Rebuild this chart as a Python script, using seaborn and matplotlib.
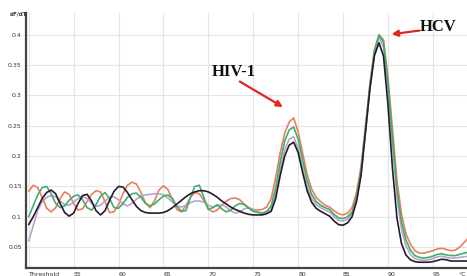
import numpy as np
import pandas as pd
import matplotlib
matplotlib.use("Agg")
import matplotlib.pyplot as plt
import seaborn as sns

# Temperature grid (°C) shared by every curve
temps = [50.0 + 0.5 * i for i in range(99)]

orange = [0.142, 0.152, 0.148, 0.132, 0.114, 0.108, 0.115, 0.130, 0.141, 0.137,
          0.122, 0.111, 0.113, 0.125, 0.137, 0.143, 0.141, 0.125, 0.107, 0.108,
          0.120, 0.138, 0.152, 0.157, 0.154, 0.140, 0.123, 0.115, 0.126, 0.144,
          0.151, 0.145, 0.128, 0.112, 0.108, 0.118, 0.132, 0.140, 0.138, 0.127,
          0.113, 0.108, 0.111, 0.119, 0.126, 0.130, 0.131, 0.128, 0.121, 0.115,
          0.112, 0.111, 0.112, 0.116, 0.130, 0.165, 0.205, 0.238, 0.256, 0.263,
          0.240, 0.205, 0.170, 0.146, 0.132, 0.125, 0.119, 0.116, 0.110, 0.105,
          0.103, 0.106, 0.115, 0.140, 0.183, 0.250, 0.320, 0.375, 0.400, 0.392,
          0.330, 0.245, 0.160, 0.105, 0.072, 0.055, 0.044, 0.040, 0.040, 0.042,
          0.044, 0.047, 0.048, 0.046, 0.044, 0.045, 0.050, 0.058, 0.066]

green = [0.100, 0.118, 0.136, 0.148, 0.150, 0.138, 0.122, 0.115, 0.118, 0.127,
         0.134, 0.136, 0.128, 0.115, 0.111, 0.120, 0.134, 0.140, 0.130, 0.115,
         0.114, 0.122, 0.132, 0.138, 0.139, 0.132, 0.122, 0.118, 0.121, 0.128,
         0.134, 0.136, 0.130, 0.117, 0.109, 0.110, 0.132, 0.150, 0.152, 0.132,
         0.112, 0.115, 0.120, 0.113, 0.108, 0.111, 0.118, 0.122, 0.120, 0.114,
         0.109, 0.107, 0.106, 0.109, 0.118, 0.148, 0.190, 0.225, 0.243, 0.248,
         0.228, 0.193, 0.160, 0.137, 0.125, 0.119, 0.115, 0.112, 0.104, 0.098,
         0.097, 0.100, 0.108, 0.132, 0.175, 0.245, 0.318, 0.374, 0.400, 0.388,
         0.322, 0.232, 0.145, 0.092, 0.062, 0.045, 0.036, 0.033, 0.032, 0.033,
         0.035, 0.038, 0.039, 0.037, 0.036, 0.036, 0.038, 0.040, 0.042]

lavender = [0.060, 0.085, 0.110, 0.125, 0.132, 0.135, 0.133, 0.126, 0.120, 0.119,
            0.124, 0.130, 0.133, 0.130, 0.122, 0.117, 0.119, 0.126, 0.132, 0.133,
            0.128, 0.121, 0.118, 0.122, 0.129, 0.134, 0.136, 0.137, 0.138, 0.138,
            0.136, 0.131, 0.124, 0.118, 0.116, 0.119, 0.123, 0.126, 0.126, 0.124,
            0.119, 0.116, 0.118, 0.120, 0.116, 0.110, 0.106, 0.108, 0.113, 0.115,
            0.112, 0.108, 0.106, 0.107, 0.112, 0.138, 0.178, 0.210, 0.228, 0.232,
            0.213, 0.180, 0.149, 0.130, 0.120, 0.115, 0.111, 0.108, 0.100, 0.094,
            0.093, 0.096, 0.105, 0.128, 0.170, 0.240, 0.313, 0.370, 0.396, 0.380,
            0.310, 0.218, 0.132, 0.080, 0.052, 0.038, 0.031, 0.029, 0.028, 0.029,
            0.031, 0.034, 0.035, 0.033, 0.032, 0.032, 0.033, 0.034, 0.035]

black = [0.087, 0.100, 0.115, 0.130, 0.140, 0.144, 0.138, 0.122, 0.107, 0.101,
         0.106, 0.122, 0.135, 0.137, 0.126, 0.110, 0.103, 0.110, 0.127, 0.142,
         0.150, 0.149, 0.140, 0.128, 0.117, 0.110, 0.107, 0.106, 0.106, 0.106,
         0.107, 0.110, 0.115, 0.121, 0.127, 0.133, 0.138, 0.141, 0.143, 0.143,
         0.141, 0.137, 0.132, 0.126, 0.121, 0.116, 0.112, 0.109, 0.106, 0.104,
         0.103, 0.103, 0.103, 0.105, 0.109, 0.130, 0.168, 0.200, 0.218, 0.223,
         0.206, 0.173, 0.143, 0.124, 0.114, 0.109, 0.105, 0.101, 0.093, 0.087,
         0.086, 0.090, 0.100, 0.125, 0.168, 0.240, 0.312, 0.366, 0.387, 0.365,
         0.285, 0.180, 0.098, 0.056, 0.037, 0.029, 0.026, 0.025, 0.025, 0.025,
         0.026, 0.028, 0.030, 0.029, 0.027, 0.027, 0.027, 0.027, 0.027]

series_names = ["s1", "s2", "s3", "s4"]
series_values = [orange, lavender, green, black]
series_colors = ["#ea7f5c", "#b3a6c8", "#3fae6f", "#2a1830"]

xtick_pos = [50, 55, 60, 65, 70, 75, 80, 85, 90, 95]
xtick_labels = ["Threshold", "55", "60", "65", "70", "75", "80", "85", "90", "95"]
ytick_pos = [0.05, 0.1, 0.15, 0.2, 0.25, 0.3, 0.35, 0.4]
ytick_labels = ["0.05", "0.1", "0.15", "0.2", "0.25", "0.3", "0.35", "0.4"]

rows = []
for name, vals in zip(series_names, series_values):
    for t, v in zip(temps, vals):
        rows.append({"temp": t, "val": v, "sample": name})
df = pd.DataFrame(rows)

sns.set_theme(style="white")
plt.rcParams["font.family"] = ["DejaVu Sans"]

fig = plt.figure(figsize=(4.67, 2.76), dpi=100)
ax = fig.add_axes([26 / 467, 8 / 276, 441 / 467, 255 / 276])

sns.lineplot(data=df, x="temp", y="val", hue="sample", hue_order=series_names,
             palette=dict(zip(series_names, series_colors)), estimator=None,
             sort=False, linewidth=1.2, legend=False, ax=ax)

ax.set_xlim(49.7, 98.8)
ax.set_ylim(0.0155, 0.436)
ax.set_xticks(xtick_pos)
ax.set_xticklabels(xtick_labels, fontsize=4.5, ha="left", color="#333333")
ax.set_yticks(ytick_pos)
ax.set_yticklabels(ytick_labels, fontsize=4.5, color="#333333")
ax.tick_params(axis="both", length=2, width=0.6, pad=1, colors="#333333")
ax.grid(True, color="#e4e4e4", linewidth=0.8)
ax.set_axisbelow(True)
ax.set_xlabel("")
ax.set_ylabel("")
for s in ["top", "right"]:
    ax.spines[s].set_visible(False)
for s in ["left", "bottom"]:
    ax.spines[s].set_color("#444444")
    ax.spines[s].set_linewidth(1.6)

fig.text(18 / 467, 1 - 14 / 276, "dF/dT", fontsize=4, fontweight="bold",
         ha="center", va="center", color="#333333")
ax.annotate("°C", xy=(97.8, 0), xycoords=("data", "axes fraction"),
            xytext=(0, -3), textcoords="offset points", fontsize=4.5,
            ha="left", va="top", color="#333333", annotation_clip=False)

ax.annotate("", xy=(78.3, 0.281), xytext=(73.5, 0.323),
            arrowprops=dict(arrowstyle="-|>", color="#e3261f", lw=1.6,
                            mutation_scale=9, shrinkA=0, shrinkB=0))
ax.text(72.8, 0.339, "HIV-1", fontsize=12, fontweight="bold",
        family="Liberation Serif", ha="center", va="center", color="#111111")
ax.annotate("", xy=(90.4, 0.401), xytext=(93.5, 0.407),
            arrowprops=dict(arrowstyle="-|>", color="#e3261f", lw=1.6,
                            mutation_scale=9, shrinkA=0, shrinkB=0))
ax.text(95.6, 0.413, "HCV", fontsize=12, fontweight="bold",
        family="Liberation Serif", ha="center", va="center", color="#111111",
        clip_on=False)

fig.savefig("out.png", dpi=100)
